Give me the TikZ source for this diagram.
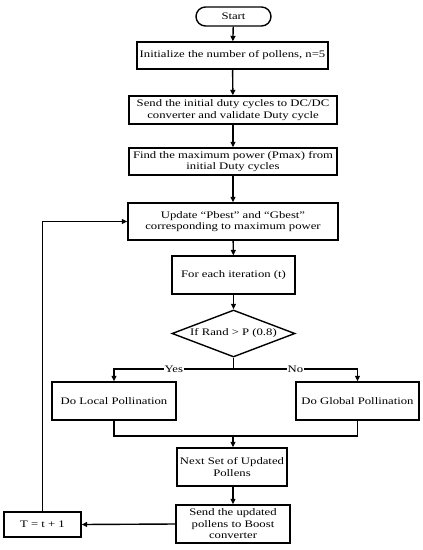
\documentclass[tikz,border=0pt]{standalone}
\usepackage{fontspec}
\setmainfont{Liberation Serif}[FakeStretch=1.27]
\usetikzlibrary{shapes.geometric,shapes.misc,arrows.meta}
\begin{document}
\begin{tikzpicture}[x=1pt,y=-1pt,
  every node/.style={font=\fontsize{10}{11.5}\selectfont},
  box/.style={draw,line width=1.4pt,align=center,inner sep=1pt,minimum width=#1},
  arr/.style={line width=1.4pt,-{Triangle[length=5.5pt,width=5pt]}},
  ln/.style={line width=1.4pt}]
\useasboundingbox (0,0) rectangle (423,550);
\node[draw,line width=1.4pt,rounded rectangle,minimum width=77pt,minimum height=19pt,inner sep=1pt] (start) at (233.5,16.5) {Start};
\node[box=191pt,minimum height=27pt] (init) at (232.5,55.5) {Initialize the number of pollens, n=5};
\node[box=208pt,minimum height=28pt] (send) at (233,110) {Send the initial duty cycles to DC/DC\\converter and validate Duty cycle};
\node[box=208pt,minimum height=27pt] (find) at (233,161.5) {Find the maximum power (Pmax) from\\initial Duty cycles};
\node[box=210pt,minimum height=37pt] (upd) at (233,221.5) {Update “Pbest” and “Gbest”\\corresponding to maximum power};
\node[box=123pt,minimum height=38pt] (iter) at (233.5,275) {For each iteration (t)};
\node[draw,line width=1.4pt,diamond,aspect=2.6,minimum width=123pt,minimum height=47pt,inner sep=0pt] (dec) at (233.5,333.5) {If Rand > P (0.8)};
\node[box=124pt,minimum height=38pt] (loc) at (114,401) {Do Local Pollination};
\node[box=123pt,minimum height=38pt] (glob) at (357.5,401) {Do Global Pollination};
\node[box=110pt,minimum height=38pt] (next) at (232,467) {Next Set of Updated\\Pollens};
\node[box=114pt,minimum height=38pt] (boost) at (233,524) {Send the updated\\pollens to Boost\\converter};
\node[box=77pt,minimum height=25pt] (tt) at (42.5,524.5) {T = t + 1};
\coordinate (split) at (233.5,369);
\coordinate (merge) at (233,436);
\draw[arr] (start) -- (init);
\draw[arr] (init) -- (send);
\draw[arr] (send) -- (find);
\draw[arr] (find) -- (upd);
\draw[arr] (upd) -- (iter);
\draw[arr] (iter) -- (dec);
\draw[ln] (dec.south) -- (split);
\draw[arr] (split) -| node[pos=0.25,fill=white,inner sep=1pt] (yes) {Yes} (loc.north);
\draw[arr] (split) -| node[pos=0.25,fill=white,inner sep=1pt] (no) {No} (glob.north);
\draw[ln] (loc.south) |- (merge);
\draw[ln] (glob.south) |- (merge);
\draw[arr] (merge) -- (next.north -| merge);
\draw[arr] (next.south -| merge) -- (boost.north -| merge);
\draw[arr] (boost.west) -- (tt.east);
\draw[arr] (tt.north) |- (upd.west);
\end{tikzpicture}
\end{document}
